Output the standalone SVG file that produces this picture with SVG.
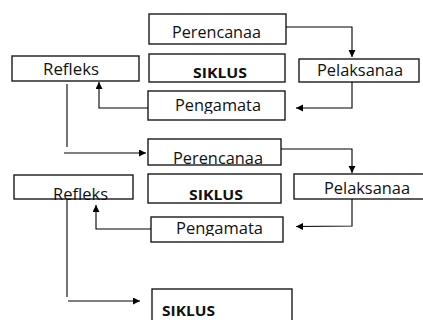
<svg xmlns="http://www.w3.org/2000/svg" width="423" height="320" viewBox="0 0 423 320">
  <style>
    .box { fill: #fff; stroke: #1a1a1a; stroke-width: 1.4; }
    .t { font-family: "Open Sans", "Liberation Sans", sans-serif; font-size: 16px; fill: #111; }
    .b { font-family: "Open Sans", "Liberation Sans", sans-serif; font-size: 15px; font-weight: bold; fill: #111; }
    .c { fill: none; stroke: #000; stroke-width: 1.1; }
  </style>
  <defs>
    <marker id="ah" markerUnits="userSpaceOnUse" markerWidth="8" markerHeight="8" refX="7" refY="3.5" orient="auto">
      <path d="M0,0 L7,3.5 L0,7 z" fill="#000"/>
    </marker>
    <clipPath id="clip1"><rect x="148" y="90" width="138" height="23.7"/></clipPath>
    <clipPath id="clip2"><rect x="151" y="216" width="133" height="20"/></clipPath>
  </defs>
  <rect width="423" height="320" fill="#fff"/>

  <g id="perencanaa1">
    <rect class="box" x="149" y="14" width="137" height="30"/>
    <text class="t" x="172" y="38" textLength="89" lengthAdjust="spacingAndGlyphs">Perencanaa</text>
  </g>
  <g id="refleks1">
    <rect class="box" x="12" y="56" width="127" height="25"/>
    <text class="t" x="43" y="75" textLength="56" lengthAdjust="spacingAndGlyphs">Refleks</text>
  </g>
  <g id="siklus1">
    <rect class="box" x="149" y="54" width="136" height="28"/>
    <text class="b" x="193" y="78" textLength="54" lengthAdjust="spacingAndGlyphs">SIKLUS</text>
  </g>
  <g id="pelaksanaa1">
    <rect class="box" x="299" y="59" width="120" height="23"/>
    <text class="t" x="317" y="76" textLength="86" lengthAdjust="spacingAndGlyphs">Pelaksanaa</text>
  </g>
  <g id="pengamata1">
    <rect class="box" x="148" y="91" width="137" height="29"/>
    <text class="t" x="175" y="111" textLength="86" lengthAdjust="spacingAndGlyphs" clip-path="url(#clip1)">Pengamata</text>
  </g>

  <g id="perencanaa2">
    <rect class="box" x="148" y="139" width="133" height="26"/>
    <text class="t" x="173" y="164" textLength="90" lengthAdjust="spacingAndGlyphs">Perencanaa</text>
  </g>
  <g id="refleks2">
    <rect class="box" x="14" y="175" width="119" height="24"/>
    <text class="t" x="53" y="199.5" textLength="55" lengthAdjust="spacingAndGlyphs">Refleks</text>
  </g>
  <g id="siklus2">
    <rect class="box" x="148" y="174" width="133" height="29"/>
    <text class="b" x="189" y="200" textLength="54" lengthAdjust="spacingAndGlyphs">SIKLUS</text>
  </g>
  <g id="pelaksanaa2">
    <rect class="box" x="294" y="174" width="131" height="25"/>
    <text class="t" x="324" y="194" textLength="86" lengthAdjust="spacingAndGlyphs">Pelaksanaa</text>
  </g>
  <g id="pengamata2">
    <rect class="box" x="151" y="217" width="132" height="25"/>
    <text class="t" x="176" y="234" textLength="87" lengthAdjust="spacingAndGlyphs" clip-path="url(#clip2)">Pengamata</text>
  </g>

  <g id="siklus3">
    <rect class="box" x="152" y="289" width="140" height="40"/>
    <text class="b" x="162" y="316" textLength="53" lengthAdjust="spacingAndGlyphs">SIKLUS</text>
  </g>

  <g id="connectors">
    <polyline class="c" points="286,27 352,27 352,57" marker-end="url(#ah)"/>
    <polyline class="c" points="352,82 352,108 296,108" marker-end="url(#ah)"/>
    <polyline class="c" points="148,108 99,108 99,82" marker-end="url(#ah)"/>
    <line class="c" x1="67" y1="84" x2="67" y2="147"/>
    <line class="c" x1="64" y1="153" x2="146" y2="153" marker-end="url(#ah)"/>
    <polyline class="c" points="281,149 352,149 352,173" marker-end="url(#ah)"/>
    <polyline class="c" points="352,199 352,226 296,226.5" marker-end="url(#ah)"/>
    <polyline class="c" points="151,229 96,229 96,205" marker-end="url(#ah)"/>
    <line class="c" x1="67" y1="200" x2="67" y2="297"/>
    <line class="c" x1="68" y1="301" x2="140" y2="301" marker-end="url(#ah)"/>
  </g>
</svg>
